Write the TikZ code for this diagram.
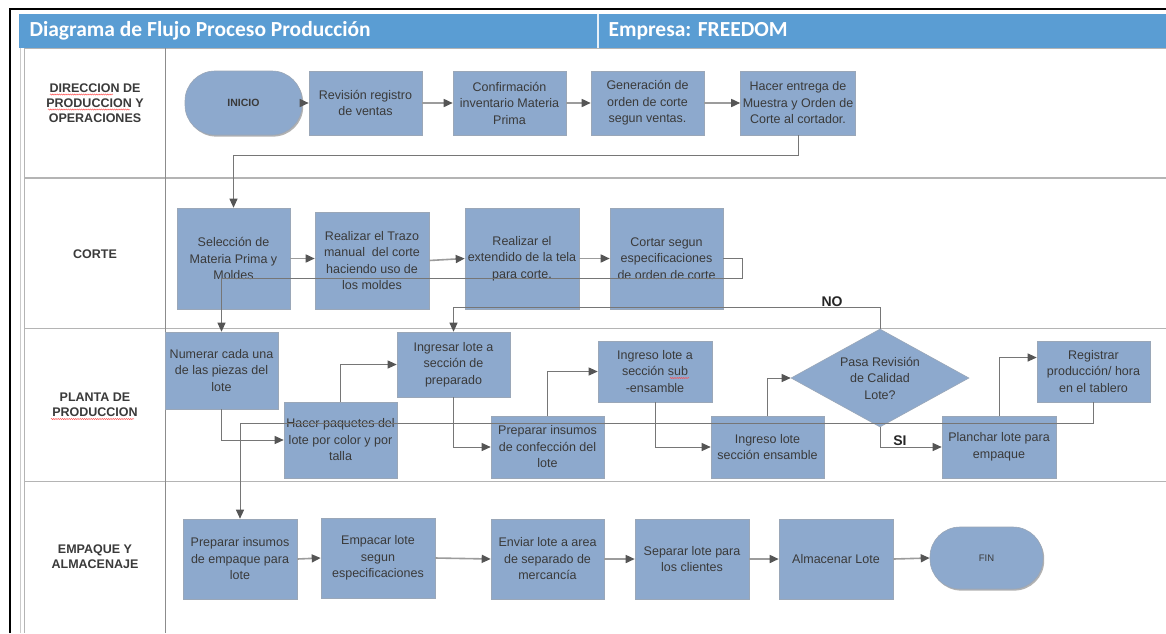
\documentclass[tikz,border=0pt]{standalone}
\usepackage{fontspec}
\setmainfont{Liberation Sans}
\newfontfamily\hdrfont{Carlito}
\usetikzlibrary{shapes.geometric,arrows.meta,calc,shadows,decorations.pathmorphing}
\definecolor{hdrblue}{HTML}{5A9DD3}
\definecolor{boxfill}{HTML}{8DA9CD}
\definecolor{boxline}{HTML}{9AA7B8}
\definecolor{txt}{HTML}{3A3A3A}
\definecolor{laneline}{HTML}{B4B4B4}
\definecolor{conn}{HTML}{767676}
\definecolor{flowgray}{HTML}{9C9C9C}
\definecolor{tipgray}{HTML}{555555}
\tikzset{
  boxfont/.style={font=\fontsize{12.5}{16.5}\selectfont},
  procbox/.style={draw=boxline, fill=boxfill, line width=0.6pt, text=txt,
    boxfont, align=center, inner sep=1pt},
  sz/.style 2 args={minimum width=#1pt, minimum height=#2pt},
  termbox/.style={procbox, rounded corners=30pt,
    drop shadow={shadow xshift=1.2pt, shadow yshift=-1.6pt, opacity=0.3, fill=black}},
  decbox/.style={draw=boxline, fill=boxfill, line width=0.6pt, diamond, inner sep=0pt},
  dectext/.style={text=txt, boxfont, align=center, inner sep=0pt},
  lanelabel/.style={text=txt, font=\bfseries\fontsize{12.5}{15}\selectfont, align=center},
  hdrtext/.style={text=white, font=\hdrfont\bfseries\fontsize{21.5}{25}\selectfont, anchor=west},
  flowarrow/.style={draw=flowgray, line width=1.6pt,
    -{Triangle[length=9pt,width=8pt,color=tipgray]}},
  elbow/.style={draw=conn, line width=0.9pt,
    -{Triangle[length=9pt,width=8pt,color=tipgray]}},
  branchlabel/.style={text=black!85, font=\bfseries\fontsize{14}{16}\selectfont},
  squig/.style={draw=red!70, line width=0.45pt, decorate,
    decoration={zigzag, amplitude=0.6pt, segment length=2.2pt}},
}
\begin{document}
\begin{tikzpicture}[x=1pt, y=-1pt]
  \useasboundingbox (0,0) rectangle (1166,633);
  \fill[white] (0,0) rectangle (1166,633);

  % outer frame
  \draw[black, line width=2pt] (10,633) -- (10,9) -- (1166,9);

  % header band
  \fill[hdrblue] (19,14) rectangle (1166,48);
  \draw[white!85!hdrblue, line width=1.5pt] (598,14) -- (598,48);
  \node[hdrtext] (title) at (26,31) {Diagrama de Flujo Proceso Producción};
  \node[hdrtext] (company) at (605,31) {Empresa: FREEDOM};

  % swimlane grid
  \draw[laneline!70, line width=0.8pt] (20.5,48) -- (20.5,633);
  \draw[laneline, line width=0.8pt] (24.5,48) -- (24.5,633);
  \draw[laneline, line width=1.2pt] (24,48.5) -- (1166,48.5);
  \draw[laneline, line width=1.2pt] (24,178) -- (1166,178);
  \draw[laneline, line width=1.2pt] (24,328.5) -- (1166,328.5);
  \draw[laneline, line width=1.6pt] (24,481.5) -- (1166,481.5);
  \draw[black!45, line width=0.9pt] (165,48) -- (165,633);

  % lane titles, with spell-check marks under some words
  \node[lanelabel] (l1) at (95,103) {DIRECCION DE\\PRODUCCION Y\\OPERACIONES};
  \node[lanelabel] (l2) at (95,254) {CORTE};
  \node[lanelabel] (l3) at (95,405) {PLANTA DE\\PRODUCCION};
  \node[lanelabel] (l4) at (95,557) {EMPAQUE Y\\ALMACENAJE};
  \draw[squig] (50,94.5) -- (113,94.5);
  \draw[squig] (48,109.5) -- (130,109.5);
  \draw[squig] (51,419) -- (134,419);

  % lane 1
  \node[termbox, sz={117}{64}, font=\bfseries\fontsize{10.5}{12}\selectfont] (inicio) at (243.5,103) {INICIO};
  \node[procbox, sz={113}{64}] (rev) at (365.5,103) {Revisión registro\\de ventas};
  \node[procbox, sz={113}{64}] (conf) at (509.5,103) {Confirmación\\inventario Materia\\Prima};
  \node[procbox, sz={113}{64}] (gen) at (647.5,103) {Generación de\\orden de corte\\segun ventas.};
  \node[procbox, sz={115}{64}] (hacer) at (798,103) {Hacer entrega de\\Muestra y Orden de\\Corte al cortador.};

  % lane 2
  \node[procbox, sz={113}{101}] (sel) at (233.5,258.5) {Selección de\\Materia Prima y\\Moldes};
  \node[procbox, sz={114}{97}] (trazo) at (372,260.5) {Realizar el Trazo\\manual\ \ del corte\\haciendo uso de\\los moldes};
  \node[procbox, sz={114}{101}] (ext) at (522,258.5) {Realizar el\\extendido de la tela\\para corte.};
  \node[procbox, sz={113}{101}] (cortar) at (666.5,258.5) {Cortar segun\\especificaciones\\de orden de corte};

  % lane 3
  \node[procbox, sz={113}{77}] (num) at (221.5,370.5) {Numerar cada una\\de las piezas del\\lote};
  \node[procbox, sz={113}{76}] (paq) at (340.5,440) {Hacer paquetes del\\lote por color y por\\talla};
  \node[procbox, sz={113}{65}] (ingr) at (453.5,364.5) {Ingresar lote a\\sección de\\preparado};
  \node[procbox, sz={113}{62}] (prep) at (547.5,447) {Preparar insumos\\de confección del\\lote};
  \node[procbox, sz={114}{61}] (sub) at (655,371.5) {Ingreso lote a\\sección sub\\-ensamble};
  \node[procbox, sz={113}{62}] (ens) at (767.5,447) {Ingreso lote\\sección ensamble};
  \node[decbox, sz={178}{98}, label={[dectext]center:Pasa Revisión\\de Calidad\\Lote?}] (dia) at (880,378) {};
  \node[procbox, sz={114}{62}] (plan) at (999,447) {Planchar lote para\\empaque};
  \node[procbox, sz={113}{61}] (reg) at (1093.5,371.5) {Registrar\\producción/ hora\\en el tablero};
  \draw[squig] (670,378) -- (689,378);

  % lane 4
  \node[procbox, sz={114}{80}] (pemp) at (240,559) {Preparar insumos\\de empaque para\\lote};
  \node[procbox, sz={114}{80}] (empa) at (378,558) {Empacar lote\\segun\\especificaciones};
  \node[procbox, sz={113}{80}] (env) at (547.5,559) {Enviar lote a area\\de separado de\\mercancía};
  \node[procbox, sz={114}{80}] (sep) at (692,559) {Separar lote para\\los clientes};
  \node[procbox, sz={114}{80}] (alm) at (836,559) {Almacenar Lote};
  \node[termbox, sz={113}{62}, font=\fontsize{9.5}{11}\selectfont] (fin) at (986.5,558) {FIN};

  % flow: lane 1
  \draw[flowarrow] (inicio.east) -- (rev.west);
  \draw[flowarrow] (rev.east) -- (conf.west);
  \draw[flowarrow] (conf.east) -- (gen.west);
  \draw[flowarrow] (gen.east) -- (hacer.west);
  \draw[elbow] (hacer.south) -- ++(0,20) -| (sel.north);

  % flow: lane 2
  \draw[flowarrow] (sel.east) -- (sel.east -| trazo.west);
  \draw[flowarrow] (trazo.east) -- (ext.west);
  \draw[flowarrow] (ext.east) -- (cortar.west);
  \draw[elbow] (cortar.east) -- ++(19,0) -- ++(0,20) -| (num.north);

  % flow: lane 3
  \draw[elbow] (num.south) |- (paq.west);
  \draw[elbow] (paq.north) |- (ingr.west);
  \draw[elbow] (ingr.south) |- (prep.west);
  \draw[elbow] (prep.north) |- (sub.west);
  \draw[elbow] (sub.south) |- (ens.west);
  \draw[elbow] (ens.north) |- (dia.west);
  \draw[elbow] (dia.south) |- (plan.west);
  \draw[elbow] (plan.north) |- ($(reg.west)+(0,-14)$);
  \draw[elbow] (dia.north) -- ++(0,-21) -| (ingr.north);
  \draw[elbow] (reg.south) -- ++(0,21) -| (pemp.north);
  \node[branchlabel] (no) at (832,302) {NO};
  \node[branchlabel] (si) at (900,441) {SI};

  % flow: lane 4
  \draw[flowarrow] (pemp.east) -- (empa.west);
  \draw[flowarrow] (empa.east) -- (env.west);
  \draw[flowarrow] (env.east) -- (sep.west);
  \draw[flowarrow] (sep.east) -- (alm.west);
  \draw[flowarrow] (alm.east) -- (fin.west);
\end{tikzpicture}
\end{document}
